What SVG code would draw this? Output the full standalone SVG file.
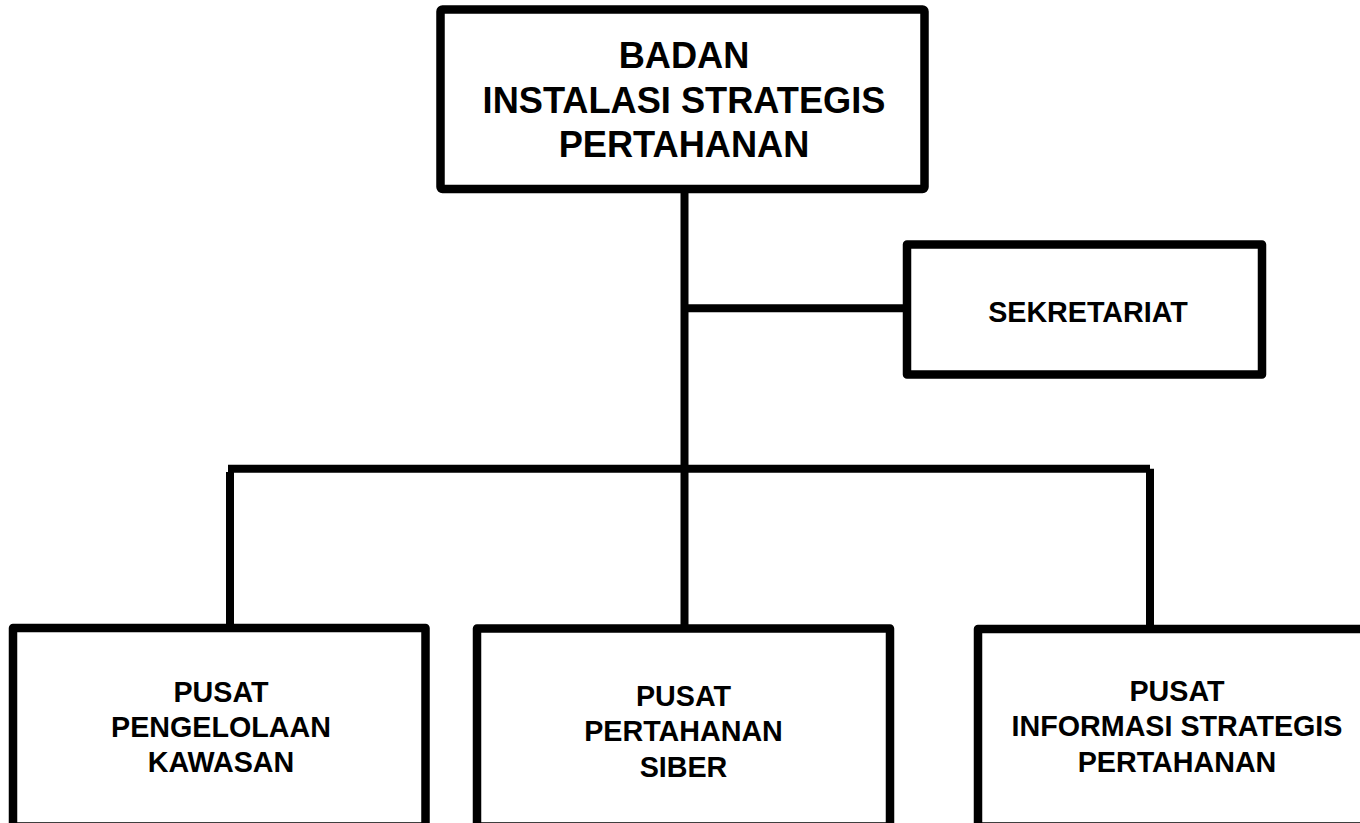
<svg xmlns="http://www.w3.org/2000/svg" width="1360" height="823" viewBox="0 0 1360 823">
<style>
.box{fill:#fff;stroke:#000;stroke-width:8.5;stroke-linejoin:round}
.ln{fill:none;stroke:#000;stroke-width:8;stroke-linecap:butt}
.t{font-family:"Liberation Sans",Arial,sans-serif;font-weight:bold;fill:#000;text-anchor:middle}
.big{font-size:36.2px}
.sm{font-size:28.7px}
</style>
<rect width="1360" height="823" fill="#fff"/>
<g id="connectors">
<line class="ln" x1="684.5" y1="189" x2="684.5" y2="628"/>
<line class="ln" x1="684.5" y1="308.3" x2="907" y2="308.3"/>
<line class="ln" x1="228" y1="468.7" x2="1150" y2="468.7"/>
<line class="ln" x1="230" y1="472" x2="230" y2="628"/>
<line class="ln" x1="1150" y1="468.7" x2="1150" y2="629"/>
</g>
<g id="node-badan">
<rect class="box" x="440.5" y="9.5" width="484" height="179.5" rx="2"/>
<text class="t big" x="684" y="68">BADAN</text>
<text class="t big" x="684" y="112.5">INSTALASI STRATEGIS</text>
<text class="t big" x="684" y="157">PERTAHANAN</text>
</g>
<g id="node-sekretariat">
<rect class="box" x="907" y="244.5" width="355" height="130"/>
<text class="t sm" x="1088" y="321.7">SEKRETARIAT</text>
</g>
<g id="node-pengelolaan">
<rect class="box" x="13" y="628" width="412.5" height="198.6"/>
<text class="t sm" x="221" y="701.7">PUSAT</text>
<text class="t sm" x="221" y="736.7">PENGELOLAAN</text>
<text class="t sm" x="221" y="771.7">KAWASAN</text>
</g>
<g id="node-siber">
<rect class="box" x="477" y="628.5" width="413" height="198.1"/>
<text class="t sm" x="683.5" y="706">PUSAT</text>
<text class="t sm" x="683.5" y="741">PERTAHANAN</text>
<text class="t sm" x="683.5" y="776.7">SIBER</text>
</g>
<g id="node-informasi">
<rect class="box" x="978" y="629" width="400" height="197.6"/>
<text class="t sm" x="1177" y="700.7">PUSAT</text>
<text class="t sm" x="1177" y="736">INFORMASI STRATEGIS</text>
<text class="t sm" x="1177" y="771.7">PERTAHANAN</text>
</g>
</svg>
